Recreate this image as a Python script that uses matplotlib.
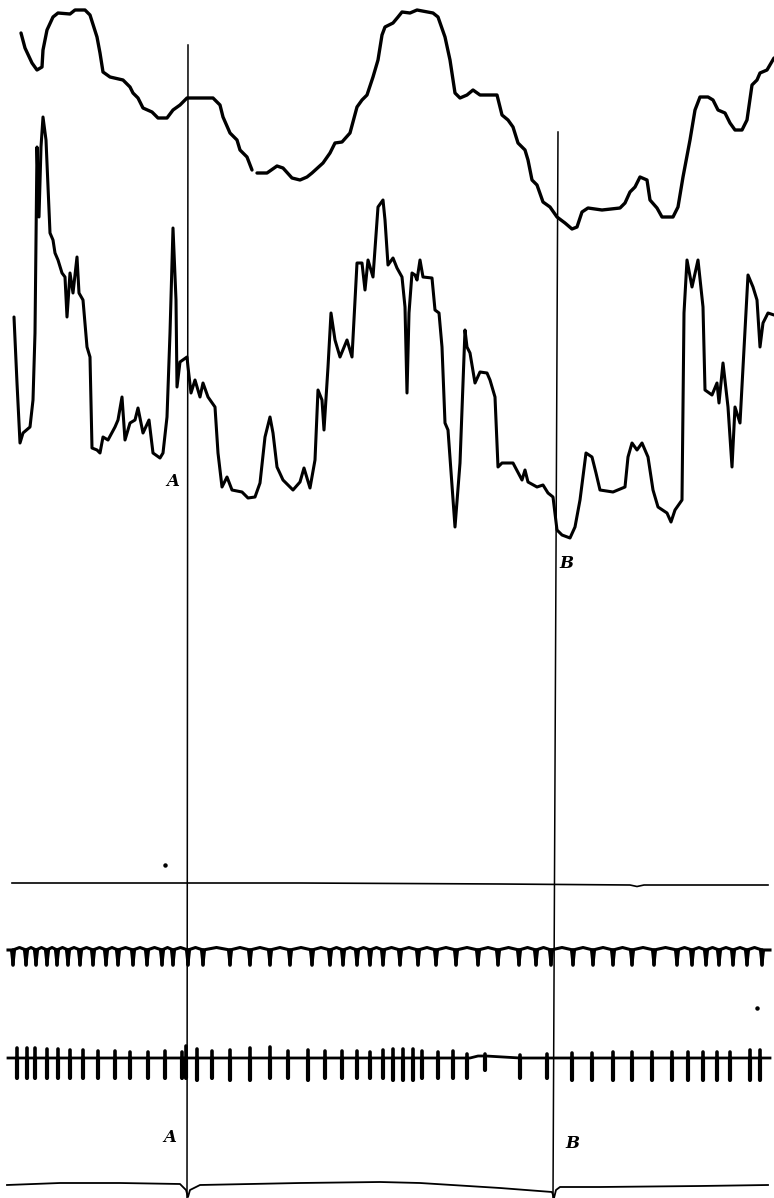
import numpy as np
import matplotlib
matplotlib.use("Agg")
import matplotlib.pyplot as plt

# ---- data (time position along drum, trace height) ----
# upper slow trace
trace1_x = [21, 25, 32, 37, 42, 43, 47, 53, 58, 70, 75, 85, 90, 97, 100, 103, 110, 123, 130, 133,
            138, 143, 152, 158, 167, 173, 180, 187, 213, 220, 223, 230, 237, 240, 247, 252, None,
            257, 267, 277, 283, 292, 300, 307, 312, 323, 330, 335, 342, 350, 357, 362, 367, 373, 378,
            382, 385, 393, 398, 402, 410, 417, 433, 438, 445, 450, 455, 460, 467, 473, 480, 497,
            502, 508, 513, 518, 525, 528, 532, 537, 543, 550, 557, 565, 572, 577, 582, 588, 602,
            620, 625, 630, 635, 640, 647, 650, 657, 662, 673, 678, 683, 690, 695, 700, 708, 713,
            718, 725, 730, 735, 742, 747, 752, 757, 760, 767, 774]
trace1_y = [33, 48, 63, 70, 67, 50, 30, 17, 13, 14, 10, 10, 15, 37, 53, 72, 77, 80, 87, 93,
            98, 108, 112, 118, 118, 110, 105, 98, 98, 105, 117, 133, 140, 150, 157, 170, None,
            173, 173, 166, 168, 178, 180, 177, 173, 163, 153, 143, 142, 133, 107, 100, 95, 77, 60,
            35, 27, 23, 17, 12, 13, 10, 13, 17, 37, 60, 93, 98, 95, 90, 95, 95,
            115, 120, 127, 143, 150, 160, 180, 185, 202, 207, 217, 223, 229, 227, 212, 208, 210,
            208, 203, 192, 187, 177, 180, 200, 208, 217, 217, 207, 177, 140, 110, 97, 97, 100,
            110, 113, 123, 130, 130, 120, 85, 80, 73, 70, 58]

# middle fast trace
trace2_x = [14, 17, 20, 23, 30, 33, 35, 37, 39, 41, 43, 46, 50, 53, 55, 58, 62, 65, 67, 70, 73,
            77, 79, 83, 87, 90, 92, 97, 100, 103, 108, 115, 118, 122, 125, 130, 135, 138, 143,
            149, 153, 160, 163, 167, 170, 173, 176, 177, 180, 187, 188, 191, 195, 200, 203, 208,
            215, 218, 222, 227, 232, 242, 248, 255, 260, 265, 270, 273, 277, 283, 293, 300, 304,
            310, 315, 318, 322, 324, 328, 331, 335, 340, 347, 352, 357, 362, 365, 368, 373, 378,
            383, 385, 388, 393, 397, 402, 405, 407, 409, 412, 415, 417, 420, 423, 432, 435, 439,
            442, 445, 448, 455, 460, 465, 467, 470, 475, 480, 487, 490, 495, 498, 502, 513, 522,
            525, 528, 537, 543, 548, 553, 557, 562, 570, 575, 580, 586, 592, 596, 600, 613, 625,
            628, 632, 637, 642, 648, 653, 658, 667, 671, 675, 682, 684, 687, 692, 698, 703, 705,
            712, 717, 719, 723, 728, 732, 735, 740, 745, 748, 753, 757, 760, 763, 768, 774]
trace2_y = [317, 383, 443, 433, 427, 400, 333, 147, 217, 147, 117, 140, 233, 240, 253, 260, 273,
            277, 317, 273, 293, 257, 293, 300, 347, 357, 448, 450, 453, 437, 440, 427, 420, 397,
            440, 423, 420, 408, 433, 420, 453, 458, 453, 417, 333, 228, 300, 387, 362, 357, 367,
            393, 380, 397, 383, 397, 407, 453, 487, 477, 490, 492, 498, 497, 483, 437, 417, 433,
            467, 480, 490, 482, 468, 488, 460, 390, 400, 430, 367, 313, 340, 357, 340, 357, 263,
            263, 290, 260, 277, 207, 200, 220, 265, 258, 268, 277, 307, 393, 313, 273, 275, 280,
            260, 277, 278, 310, 313, 347, 423, 430, 527, 463, 330, 347, 353, 383, 372, 373, 380,
            397, 467, 463, 463, 480, 470, 482, 487, 485, 493, 497, 530, 535, 538, 527, 500, 453,
            457, 473, 490, 492, 487, 457, 443, 450, 443, 457, 490, 507, 513, 522, 510, 500, 313,
            260, 287, 260, 307, 390, 395, 383, 403, 363, 407, 467, 407, 423, 330, 275, 287, 300,
            347, 323, 313, 315]

# pulse row 1 (hanging teeth) positions
row1_teeth = [13, 26, 36, 47, 57, 68, 80, 93, 106, 118, 133, 147, 162, 173, 188,
              203, 230, 250, 270, 290, 312, 330, 343, 357, 370, 383,
              400, 418, 436, 456, 478, 498, 519, 536, 551, 573, 593, 613, 632, 654,
              677, 692, 706, 719, 733, 747, 762]

# pulse row 2 (double-ended spikes) positions and upward / downward extents
row2_spikes = [17, 27, 35, 47, 58, 70, 83, 98, 115, 130, 148, 165, 182, 186,
               197, 212, 230, 250, 270, 288, 308, 325, 342, 357, 370, 383,
               393, 403, 413, 422, 438, 453, 467, 485, 520, 547, 572, 592, 613, 632,
               652, 672, 688, 703, 717, 730, 750, 760]
row2_up = [10, 10, 10, 9, 9, 8, 8, 7, 7, 6, 6, 7, 6, 12,
           9, 7, 8, 10, 11, 7, 8, 7, 7, 7, 6, 8,
           9, 9, 9, 7, 6, 7, 4, 4, 3, 4, 5, 5, 6, 6,
           6, 6, 6, 6, 6, 6, 8, 8]
row2_down = [20, 20, 20, 20, 20, 20, 20, 20, 20, 20, 20, 20, 20, 20,
             22, 20, 22, 22, 20, 20, 22, 20, 20, 20, 20, 20,
             22, 22, 22, 20, 20, 20, 20, 12, 20, 20, 22, 22, 22, 22,
             22, 22, 22, 22, 22, 22, 22, 22]

# straight guide lines and markers
hline_x = [12, 300, 500, 630, 637, 644, 768]
hline_y = [883, 883, 884, 885, 886.5, 885, 885]
base_x = [7, 60, 120, 180, 186, 188, 190, 200, 300, 380, 420, 500, 552, 554, 556, 560, 600, 700, 768]
base_y = [1185, 1183, 1183, 1184, 1190, 1197, 1190, 1185, 1183, 1182, 1183, 1188, 1192, 1198, 1190, 1187, 1187, 1186, 1185]
markA_x, markB_x = 188, 556
markA_top, markB_top = 45, 132
labels = [("A", 173, 481), ("B", 566, 563), ("A", 170, 1138), ("B", 572, 1143)]
dots = [(165, 865), (757, 1008)]

# ---- drawing ----
fig = plt.figure(figsize=(7.74, 11.98), dpi=100)
ax = fig.add_axes([0, 0, 1, 1])
ax.set_xlim(0, 774)
ax.set_ylim(1198, 0)
ax.axis("off")

ink = "black"

def nanify(v):
    return [np.nan if a is None else a for a in v]

ax.plot(nanify(trace1_x), nanify(trace1_y), color=ink, lw=2.4,
        solid_joinstyle="round", solid_capstyle="round")
ax.plot(trace2_x, trace2_y, color=ink, lw=2.2,
        solid_joinstyle="round", solid_capstyle="round")

# vertical marker lines
ax.plot([markA_x, markA_x - 1], [markA_top, 1198], color=ink, lw=1.1)
ax.plot([markB_x + 2, markB_x - 3], [markB_top, 1198], color=ink, lw=1.1)

# horizontal line and bottom base line
ax.plot(hline_x, hline_y, color=ink, lw=1.2)
ax.plot(base_x, base_y, color=ink, lw=1.3)

# row 1: arched baseline with hanging teeth
r1_base = 950
r1_depth = 15
xs, ys = [], []
for i, t in enumerate(row1_teeth):
    xs.append(t); ys.append(r1_base)
    if i + 1 < len(row1_teeth):
        m = 0.5 * (t + row1_teeth[i + 1])
        xs.append(m); ys.append(r1_base - 2.5)
xs = [8] + xs + [770]
ys = [r1_base] + ys + [r1_base]
ax.plot(xs, ys, color=ink, lw=2.2, solid_joinstyle="round")
for t in row1_teeth:
    ax.fill([t - 3.2, t + 3.2, t + 1.4, t - 1.4], [r1_base - 1, r1_base - 1, r1_base + r1_depth, r1_base + r1_depth],
            color=ink, lw=0)
    ax.plot([t, t], [r1_base, r1_base + r1_depth], color=ink, lw=2.6, solid_capstyle="round")

# row 2: baseline with double-ended spikes
r2_base = 1058
ax.plot([8, 470, 478, 486, 520, 770], [r2_base, r2_base, r2_base - 2, r2_base - 2, r2_base, r2_base],
        color=ink, lw=2.0)
for t, u, d in zip(row2_spikes, row2_up, row2_down):
    ax.plot([t, t], [r2_base - u, r2_base], color=ink, lw=2.6, solid_capstyle="round")
    ax.plot([t, t], [r2_base, r2_base + d], color=ink, lw=3.0, solid_capstyle="round")

for (s, x, y) in labels:
    ax.text(x, y, s, fontsize=12, fontfamily="DejaVu Serif", fontweight="bold",
            fontstyle="italic", ha="center", va="center", color=ink)

for (x, y) in dots:
    ax.plot([x], [y], marker="o", ms=2.2, color=ink, lw=0)

fig.savefig("out.png", dpi=100, facecolor="white")
